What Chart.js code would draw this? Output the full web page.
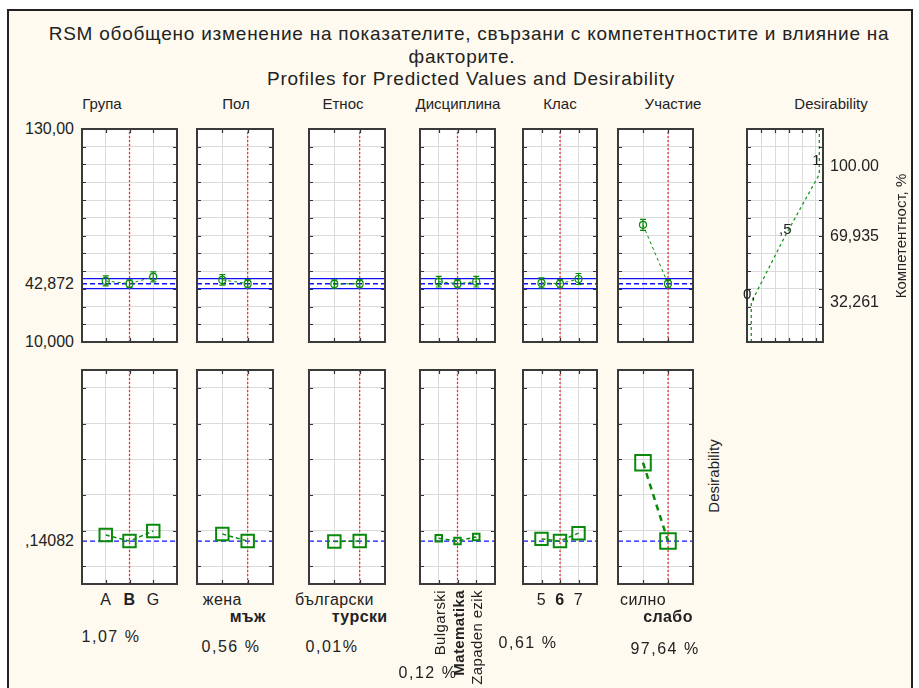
<!DOCTYPE html>
<html>
<head>
<meta charset="utf-8">
<script src="https://cdn.jsdelivr.net/npm/chart.js@4.4.1/dist/chart.umd.min.js"></script>
<style>
  html, body { margin: 0; padding: 0; background: #fff; }
  #page { position: relative; width: 919px; height: 688px; overflow: hidden; background: #fff;
          font-family: "Liberation Sans", Arial, sans-serif; color: #222; }
  #frame { position: absolute; left: 7px; top: 9px; width: 906px; height: 700px; box-sizing: border-box;
           border: 2px solid #222; border-bottom: none; background: #fffaf0; }
  .t { position: absolute; white-space: nowrap; line-height: 1; }
  canvas { position: absolute; }
</style>
</head>
<body>
<div id="page">
  <div id="frame"></div>
</div>
<script>
  // ---- data ----
  const factors = ["Група", "Пол", "Етнос", "Дисциплина", "Клас", "Участие"];
  const levels = [
    ["A", "B", "G"],
    ["жена", "мъж"],
    ["български", "турски"],
    ["Bulgarski", "Matematika", "Zapaden ezik"],
    ["5", "6", "7"],
    ["силно", "слабо"],
  ];
  const currentLevel = [1, 1, 1, 1, 1, 1];
  // predicted Компетентност, % per level, with +/- error
  const predicted = [
    [44.4, 42.872, 46.7],
    [45.0, 42.872],
    [42.7, 42.872],
    [44.0, 42.872, 44.0],
    [43.3, 42.872, 45.5],
    [76.0, 42.872],
  ];
  const predErr = [
    [2.8, 2.2, 2.8],
    [3.0, 2.3],
    [2.3, 2.3],
    [3.0, 2.3, 3.0],
    [2.8, 2.3, 3.1],
    [3.1, 2.3],
  ];
  const desirability = [
    [0.175, 0.14082, 0.197],
    [0.18, 0.14082],
    [0.138, 0.14082],
    [0.156, 0.14082, 0.164],
    [0.153, 0.14082, 0.185],
    [0.58, 0.14082],
  ];
  const contribution = ["1,07 %", "0,56 %", "0,01%", "0,12 %", "0,61 %", "97,64 %"];

  const responseMean = 42.872;
  const responseLow = 40.1;
  const responseHigh = 45.7;
  const responseRange = [10, 130];
  const responseTickLabels = [[130, "130,00"], [42.872, "42,872"], [10, "10,000"]];
  const overallDesir = 0.14082;
  const overallDesirLabel = ",14082";

  // desirability function for Компетентност, %
  const desirCurveX = [0, 0, 0.5, 1, 1];
  const desirCurveY = [10, 32.261, 69.935, 104.5, 130];
  const desirLevelLabels = ["0,", ",5", "1"];
  const desirValueLabels = ["32,261", "69,935", "100.00"];
  const desirGridTicks = [0.15, 0.35, 0.55, 0.75, 0.95];

  // ---- layout ----
  const PAD = 6;
  const panelX = [[82, 177], [197, 273], [309, 385], [420, 495], [523, 597], [618, 693]];
  const desirX = [747, 823];
  const topY = [129, 342];
  const botY = [370, 584];
  const headerPos = [102, 236, 343, 458, 560, 673];
  const labelMode = ["row", "stagger", "stagger", "rotate", "row", "stagger"];
  const pctPos = [[111, 637], [231, 647], [332, 647], [428, 673], [528, 643], [665, 649]];
  const markerRadius = [8.8, 8.8, 8.8, 4.6, 8.8, 11];
  const green = "#0a8a0a";
  const red = "#ff3030";

  const page = document.getElementById("page");

  function label(text, x, y, css) {
    const d = document.createElement("div");
    d.className = "t";
    d.textContent = text;
    d.style.left = x + "px";
    d.style.top = y + "px";
    d.style.transform = "translate(-50%,-50%)";
    if (css) Object.assign(d.style, css);
    page.appendChild(d);
    return d;
  }

  function makeCanvas(x0, x1, y0, y1) {
    const c = document.createElement("canvas");
    const w = x1 - x0 + 2 * PAD;
    const h = y1 - y0 + 2 * PAD;
    c.width = w;
    c.height = h;
    c.style.left = x0 - PAD + "px";
    c.style.top = y0 - PAD + "px";
    c.style.width = w + "px";
    c.style.height = h + "px";
    page.appendChild(c);
    return c;
  }

  // white plot area, inner tick marks, dark frame, error bars
  const panelPlugin = {
    id: "panel",
    beforeDraw(chart) {
      const { ctx, chartArea: a } = chart;
      ctx.save();
      ctx.fillStyle = "#fff";
      ctx.fillRect(a.left, a.top, a.right - a.left, a.bottom - a.top);
      ctx.restore();
    },
    afterDatasetsDraw(chart) {
      const { ctx, chartArea: a, scales } = chart;
      ctx.save();
      // error bars
      chart.data.datasets.forEach((ds, i) => {
        if (!ds.errors) return;
        const meta = chart.getDatasetMeta(i);
        ctx.strokeStyle = green;
        ctx.lineWidth = 1.2;
        ctx.beginPath();
        ds.data.forEach((p, k) => {
          const x = meta.data[k].x;
          const yT = scales.y.getPixelForValue(p.y + ds.errors[k]);
          const yB = scales.y.getPixelForValue(p.y - ds.errors[k]);
          ctx.moveTo(x, yT); ctx.lineTo(x, yB);
          ctx.moveTo(x - 3, yT); ctx.lineTo(x + 3, yT);
          ctx.moveTo(x - 3, yB); ctx.lineTo(x + 3, yB);
        });
        ctx.stroke();
      });
      // inner ticks
      ctx.strokeStyle = "#333";
      ctx.lineWidth = 1.2;
      ctx.beginPath();
      scales.y.ticks.forEach((t) => {
        const y = Math.round(scales.y.getPixelForValue(t.value)) + 0.5;
        ctx.moveTo(a.left, y); ctx.lineTo(a.left + 4, y);
        ctx.moveTo(a.right, y); ctx.lineTo(a.right - 4, y);
      });
      scales.x.ticks.forEach((t) => {
        const x = Math.round(scales.x.getPixelForValue(t.value)) + 0.5;
        ctx.moveTo(x, a.top); ctx.lineTo(x, a.top + 4);
        ctx.moveTo(x, a.bottom); ctx.lineTo(x, a.bottom - 4);
      });
      ctx.stroke();
      ctx.lineWidth = 2;
      ctx.strokeStyle = "#3a3a3a";
      ctx.strokeRect(a.left, a.top, a.right - a.left, a.bottom - a.top);
      ctx.restore();
    },
  };

  function options(xMin, xMax, xTicks, yMin, yMax, yTicks) {
    return {
      responsive: false,
      animation: false,
      devicePixelRatio: 1,
      events: [],
      layout: { padding: PAD, autoPadding: false },
      plugins: { legend: { display: false }, tooltip: { enabled: false } },
      scales: {
        x: {
          type: "linear", min: xMin, max: xMax,
          ticks: { display: false },
          grid: { color: "#dadada", drawTicks: false },
          border: { display: false },
          afterBuildTicks: (s) => { s.ticks = xTicks.map((v) => ({ value: v })); },
          afterFit: (s) => { s.height = 0; },
        },
        y: {
          type: "linear", min: yMin, max: yMax,
          ticks: { display: false },
          grid: { color: "#dadada", drawTicks: false },
          border: { display: false },
          afterBuildTicks: (s) => { s.ticks = yTicks.map((v) => ({ value: v })); },
          afterFit: (s) => { s.width = 0; },
        },
      },
    };
  }

  function hline(y, xMin, xMax, color, width, dash) {
    return { data: [{ x: xMin, y }, { x: xMax, y }], borderColor: color, borderWidth: width,
             borderDash: dash || [], pointRadius: 0 };
  }
  function vline(x, yMin, yMax, color, width, dash) {
    return { data: [{ x, y: yMin }, { x, y: yMax }], borderColor: color, borderWidth: width,
             borderDash: dash || [], pointRadius: 0 };
  }

  const respTicks = [];
  for (let v = responseRange[0]; v <= responseRange[1]; v += 10) respTicks.push(v);
  const desTicks = [0, 0.2, 0.4, 0.6, 0.8, 1.0];

  const topCharts = [];
  const botCharts = [];

  factors.forEach((f, i) => {
    const n = levels[i].length;
    const idx = levels[i].map((_, k) => k);
    const cur = currentLevel[i];

    // predicted values panel
    const tc = new Chart(makeCanvas(panelX[i][0], panelX[i][1], topY[0], topY[1]), {
      type: "line",
      data: {
        datasets: [
          {
            data: predicted[i].map((y, k) => ({ x: k, y })),
            errors: predErr[i],
            borderColor: green, borderWidth: 1, borderDash: [3, 3],
            pointStyle: "circle", pointRadius: 3.5, pointBorderWidth: 1.2,
            pointBorderColor: green, pointBackgroundColor: "rgba(0,0,0,0)",
          },
          vline(cur, responseRange[0], responseRange[1], red, 1.3, [2, 2]),
          hline(responseMean, -1, n, "#1010ff", 1.5, [5, 3]),
          hline(responseHigh, -1, n, "#1010ff", 1.3),
          hline(responseLow, -1, n, "#1010ff", 1.3),
        ],
      },
      options: options(-1, n, idx, responseRange[0], responseRange[1], respTicks),
      plugins: [panelPlugin],
    });
    topCharts.push(tc);

    // desirability panel
    const bc = new Chart(makeCanvas(panelX[i][0], panelX[i][1], botY[0], botY[1]), {
      type: "line",
      data: {
        datasets: [
          {
            data: desirability[i].map((y, k) => ({ x: k, y })),
            borderColor: green, borderWidth: i === 5 ? 2.5 : 1.5, borderDash: i === 5 ? [6, 5] : [4, 3],
            pointStyle: "rect", pointRadius: markerRadius[i], pointBorderWidth: 2,
            pointBorderColor: green, pointBackgroundColor: "rgba(0,0,0,0)",
          },
          vline(cur, -0.1, 1.1, red, 1.3, [2, 2]),
          hline(overallDesir, -1, n, "#1010ff", 1.3, [5, 3]),
        ],
      },
      options: options(-1, n, idx, -0.1, 1.1, desTicks),
      plugins: [panelPlugin],
    });
    botCharts.push(bc);
  });

  // desirability function panel (top right)
  const dc = new Chart(makeCanvas(desirX[0], desirX[1], topY[0], topY[1]), {
    type: "line",
    data: {
      datasets: [{
        data: desirCurveX.map((x, k) => ({ x, y: desirCurveY[k] })),
        borderColor: "#1a9a1a", borderWidth: 1.3, borderDash: [3, 3], pointRadius: 0,
      }],
    },
    options: options(-0.063, 1.054, desirGridTicks, responseRange[0], responseRange[1], respTicks),
    plugins: [panelPlugin],
  });

  // ---- text ----
  const titleCss = { fontSize: "19px", letterSpacing: "0.75px" };
  label("RSM обобщено изменение на показателите, свързани с компетентностите и влияние на", 469, 33, titleCss);
  label("факторите.", 462, 56, titleCss);
  label("Profiles for Predicted Values and Desirability", 471, 78, titleCss);

  factors.forEach((f, i) => label(f, headerPos[i], 103, { fontSize: "15px" }));
  label("Desirability", 831, 103, { fontSize: "15px" });

  // response tick labels on the left
  const tOff = (c) => parseFloat(c.canvas.style.top);
  const lOff = (c) => parseFloat(c.canvas.style.left);
  responseTickLabels.forEach(([v, txt]) => {
    const y = tOff(topCharts[0]) + topCharts[0].scales.y.getPixelForValue(v);
    label(txt, 74, y, { fontSize: "16px", transform: "translate(-100%,-50%)" });
  });
  label(overallDesirLabel, 74, tOff(botCharts[0]) + botCharts[0].scales.y.getPixelForValue(overallDesir),
        { fontSize: "16px", transform: "translate(-100%,-50%)" });

  // category labels under the desirability panels
  levels.forEach((lv, i) => {
    const c = botCharts[i];
    lv.forEach((txt, k) => {
      const x = lOff(c) + c.scales.x.getPixelForValue(k);
      const css = { fontSize: "16px", letterSpacing: "0.4px", fontWeight: k === currentLevel[i] ? "bold" : "normal" };
      if (labelMode[i] === "rotate") {
        Object.assign(css, { fontSize: "15px", transformOrigin: "0 0", transform: "rotate(-90deg) translate(-100%,-50%)" });
        label(txt, x, 590, css);
      } else {
        const y = labelMode[i] === "stagger" && k === 1 ? 617 : 600;
        label(txt, x, y, css);
      }
    });
  });

  contribution.forEach((txt, i) => label(txt, pctPos[i][0], pctPos[i][1], { fontSize: "16px", letterSpacing: "1.5px" }));

  // desirability curve labels
  const dTop = tOff(dc), dLeft = lOff(dc);
  const levelOffsets = [[-2, -9], [0, -8], [-3, -15]];
  desirLevelLabels.forEach((txt, k) => {
    const px = dLeft + dc.scales.x.getPixelForValue(desirCurveX[k + 1]) + levelOffsets[k][0];
    const py = dTop + dc.scales.y.getPixelForValue(desirCurveY[k + 1]) + levelOffsets[k][1];
    label(txt, px, py, { fontSize: "15px" });
  });
  const valueOffsets = [0, 0, -8];
  desirValueLabels.forEach((txt, k) => {
    const py = dTop + dc.scales.y.getPixelForValue(desirCurveY[k + 1]) + valueOffsets[k];
    label(txt, 830, py, { fontSize: "16px", transform: "translate(0,-50%)" });
  });

  label("Компетентност, %", 900, 236, { fontSize: "15px", transform: "translate(-50%,-50%) rotate(-90deg)" });
  label("Desirability", 713, 476, { fontSize: "15px", transform: "translate(-50%,-50%) rotate(-90deg)" });
</script>
</body>
</html>
